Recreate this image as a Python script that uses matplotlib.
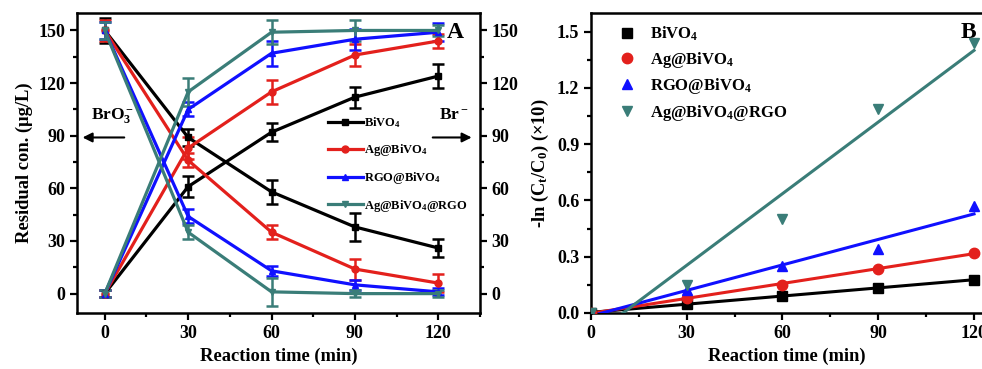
import matplotlib
matplotlib.use('Agg')
import matplotlib.pyplot as plt
from matplotlib.ticker import MultipleLocator, FormatStrFormatter
import numpy as np

plt.rcParams.update({
    'font.family': ['Liberation Serif', 'DejaVu Serif'],
    'font.weight': 'bold',
    'axes.labelweight': 'bold',
    'mathtext.fontset': 'custom',
    'mathtext.rm': 'Liberation Serif:bold',
    'mathtext.it': 'Liberation Serif:bold',
    'mathtext.bf': 'Liberation Serif:bold',
    'mathtext.default': 'bf',
    'axes.linewidth': 1.8,
})

# ---- data ----
time = [0, 30, 60, 90, 120]
names = ['BiVO$_4$', 'Ag@BiVO$_4$', 'RGO@BiVO$_4$', 'Ag@BiVO$_4$@RGO']
colors = ['black', '#e3201c', '#1010ff', '#3a7d78']
markers = ['s', 'o', '^', 'v']

# BrO3- residual (decreasing)
bro3 = [
    [150, 89, 58, 38, 26],
    [150, 76, 35, 14, 6],
    [150, 44, 13, 5, 1],
    [150, 35, 1, 0, 0],
]
bro3_err = [
    [7, 5, 7, 8, 5],
    [6, 4, 4, 6, 5],
    [5, 4, 3, 3, 2],
    [5, 4, 8, 2, 2],
]
# Br- formed (increasing)
br = [
    [0, 61, 92, 112, 124],
    [0, 83, 115, 136, 144],
    [0, 105, 137, 145, 149],
    [0, 115, 149, 150, 150],
]
br_err = [
    [2, 6, 5, 6, 7],
    [2, 6, 7, 6, 4],
    [2, 4, 7, 6, 5],
    [2, 8, 7, 6, 3],
]

# kinetics panel B: -ln(Ct/C0) x10
kin = [
    [0, 0.05, 0.09, 0.135, 0.175],
    [0, 0.08, 0.15, 0.235, 0.32],
    [0, 0.12, 0.25, 0.34, 0.57],
    [0, 0.15, 0.50, 1.09, 1.44],
]

fig = plt.figure(figsize=(9.82, 3.69), dpi=100)
axA = fig.add_axes([0.0784, 0.152, 0.4104, 0.813])
axB = fig.add_axes([0.6018, 0.152, 0.3982, 0.813])

# ---- panel A ----
for i in range(4):
    for vals, errs in ((bro3[i], bro3_err[i]), (br[i], br_err[i])):
        axA.errorbar(time, vals, yerr=errs, fmt='none', ecolor=colors[i],
                     elinewidth=1.8, capsize=4.5, capthick=1.8, zorder=3)
    axA.plot(time, bro3[i], color=colors[i], marker=markers[i], ms=5, lw=2.3,
             label=names[i], zorder=4)
    axA.plot(time, br[i], color=colors[i], marker=markers[i], ms=5, lw=2.3, zorder=4)

axA.set_xlim(-10, 135)
axA.set_ylim(-11, 160)
axA.xaxis.set_major_locator(MultipleLocator(30))
axA.xaxis.set_minor_locator(MultipleLocator(15))
axA.yaxis.set_major_locator(MultipleLocator(30))
axA.yaxis.set_minor_locator(MultipleLocator(15))
axA.tick_params(which='both', direction='out', width=1.6, labelsize=13,
                right=True, labelright=True, top=False)
axA.tick_params(which='major', length=5)
axA.tick_params(which='minor', length=3)
axA.set_xlabel('Reaction time (min)', fontsize=13.3)
axA.set_ylabel('Residual con. (\u03bcg/L)', fontsize=13.3)

axA.legend(loc='upper left', bbox_to_anchor=(0.61, 0.675), frameon=False,
           fontsize=9, handlelength=2.8, labelspacing=0.95, handletextpad=0.1,
           borderaxespad=0)

axA.annotate('', xy=(-9, 89), xytext=(8, 89),
             arrowprops=dict(arrowstyle='-|>', color='black', lw=1.5, mutation_scale=14))
axA.text(-5, 96, 'BrO$_3^-$', fontsize=12.5, ha='left', va='bottom')
axA.annotate('', xy=(133, 89), xytext=(117, 89),
             arrowprops=dict(arrowstyle='-|>', color='black', lw=1.5, mutation_scale=14))
axA.text(131, 97, 'Br$^-$', fontsize=12.5, ha='right', va='bottom')
axA.text(0.96, 0.935, 'A', transform=axA.transAxes, fontsize=17,
         ha='right', va='center')

# ---- panel B ----
fit_x = np.linspace(0, 120, 200)
for i in range(4):
    axB.plot(time, kin[i], ls='none', marker=markers[i], ms=7.5, color=colors[i],
             label=names[i], zorder=4)
    k, b = np.polyfit(time, kin[i], 1)
    axB.plot(fit_x, k * fit_x + b, color=colors[i], lw=2.2, zorder=3)

axB.set_xlim(0, 122.5)
axB.set_ylim(0, 1.6)
axB.xaxis.set_major_locator(MultipleLocator(30))
axB.xaxis.set_minor_locator(MultipleLocator(15))
axB.yaxis.set_major_locator(MultipleLocator(0.3))
axB.yaxis.set_minor_locator(MultipleLocator(0.15))
axB.tick_params(which='both', direction='out', width=1.6, labelsize=13, top=False)
axB.tick_params(which='major', length=5)
axB.tick_params(which='minor', length=3)
axB.yaxis.set_major_formatter(FormatStrFormatter('%.1f'))
axB.set_xlabel('Reaction time (min)', fontsize=13.3)
axB.set_ylabel('-ln (C$_t$/C$_0$) (\u00d710)', fontsize=13.3)
axB.spines['right'].set_visible(False)

axB.legend(loc='upper left', bbox_to_anchor=(0.04, 1.0), frameon=False,
           fontsize=12, handlelength=1.0, labelspacing=0.4, handletextpad=0.9,
           borderaxespad=0.3)
axB.text(0.985, 0.935, 'B', transform=axB.transAxes, fontsize=17,
         ha='right', va='center')

fig.savefig('out.png', dpi=100, facecolor='white')
